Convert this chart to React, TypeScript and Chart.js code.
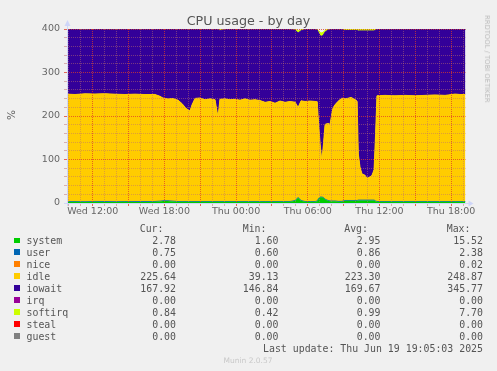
import React, { useEffect, useRef } from "react";
import { Chart, registerables } from "chart.js";
Chart.register(...registerables);

// ---- data (hours since Wed 00:00) ----
const hours = [
  9.85, 10.52, 11.36, 12.19, 13.03, 13.87, 14.7, 15.54, 16.38, 17.21,
  17.63, 17.88, 18.3, 18.72, 19.14, 19.48, 19.81, 20.14, 20.31, 20.56,
  20.98, 21.4, 21.82, 22.24, 22.49, 22.65, 23.07, 23.49, 23.91, 24.33,
  24.75, 25.17, 25.59, 26.01, 26.43, 26.85, 27.26, 27.68, 28.1, 28.52,
  28.94, 29.19, 29.44, 29.78, 30.2, 30.62, 30.79, 30.91, 31.04, 31.18,
  31.31, 31.45, 31.7, 31.87, 32.01, 32.12, 32.28, 32.54, 32.84, 33.12,
  33.37, 33.62, 33.96, 34.13, 34.23, 34.37, 34.54, 34.79, 34.96, 35.21,
  35.38, 35.55, 35.67, 35.79, 36.46, 37.3, 38.14, 38.97, 39.81, 40.65,
  41.49, 42.33, 42.75, 43.2,
];
const system = [
  2.4, 2.6, 2.2, 2.8, 2.5, 2.3, 2.6, 2.4, 2.5, 2.7,
  3.5, 4.5, 4.5, 3.5, 2.6, 2.6, 2.6, 2.6, 2.6, 2.6,
  2.6, 2.6, 2.6, 2.6, 2.6, 2.6, 2.6, 2.6, 2.6, 2.6,
  2.6, 2.6, 2.6, 2.6, 2.6, 2.6, 2.6, 2.6, 2.6, 2.6,
  5, 12, 5, 2.6, 2.6, 2.6, 4, 10, 13, 13,
  12, 8, 5, 4, 4, 4, 4, 3, 3, 5,
  5, 5, 5, 5, 6, 6, 6, 6, 6, 6,
  6, 6, 4, 2.6, 2.6, 2.6, 2.6, 2.6, 2.6, 2.6,
  2.6, 2.6, 2.6, 2.6,
];
const user = [
  0.8, 0.8, 0.8, 0.8, 0.8, 0.8, 0.8, 0.8, 0.8, 0.8,
  0.8, 0.8, 0.8, 0.8, 0.8, 0.8, 0.8, 0.8, 0.8, 0.8,
  0.8, 0.8, 0.8, 0.8, 0.8, 0.8, 0.8, 0.8, 0.8, 0.8,
  0.8, 0.8, 0.8, 0.8, 0.8, 0.8, 0.8, 0.8, 0.8, 0.8,
  0.8, 0.8, 0.8, 0.8, 0.8, 0.8, 0.8, 0.8, 0.8, 0.8,
  0.8, 0.8, 0.8, 0.8, 0.8, 0.8, 0.8, 0.8, 0.8, 0.8,
  0.8, 0.8, 0.8, 0.8, 0.8, 0.8, 0.8, 0.8, 0.8, 0.8,
  0.8, 0.8, 0.8, 0.8, 0.8, 0.8, 0.8, 0.8, 0.8, 0.8,
  0.8, 0.8, 0.8, 0.8,
];
const idle = [
  247, 246, 248, 247, 248, 247, 246, 247, 246, 246,
  241, 236, 234, 236, 233, 225, 214, 208, 222, 237,
  238, 234, 236, 234, 193, 235, 236, 234, 235, 233,
  236, 233, 234, 232, 228, 230, 226, 231, 228, 230,
  226, 207, 229, 230, 231, 230, 228, 170, 120, 82,
  122, 172, 177, 176, 200, 214, 221, 230, 237, 234,
  235, 237, 232, 228, 106, 76, 60, 57, 50, 53,
  57, 70, 150, 243, 244, 243, 244, 243, 244, 245,
  244, 247, 246, 246,
];
const iowait = [
  148.4, 149.4, 147.4, 148.4, 147.4, 148.4, 149.4, 148.4, 149.4, 149.4,
  153.5, 157.5, 159.5, 158.5, 162.4, 170.4, 181.4, 187.4, 173.4, 158.4,
  157.4, 161.4, 159.4, 161.4, 202.4, 158.2, 159.4, 161.4, 160.4, 162.4,
  159.4, 162.4, 161.4, 163.4, 167.4, 165.4, 169.4, 164.4, 167.4, 165.4,
  165.8, 171.2, 161.2, 165.4, 164.4, 165.4, 164.8, 210.2, 250.5, 287.5,
  251.2, 212.2, 214.8, 218, 194, 180, 173, 165, 158, 156.8,
  155.8, 153.8, 158.8, 162.8, 282.8, 312.8, 328.8, 331.8, 338.8, 335.8,
  331.8, 318.8, 242.8, 152.4, 151.4, 152.4, 151.4, 152.4, 151.4, 150.4,
  151.4, 148.4, 149.4, 149.4,
];
const softirq = [
  0.8, 0.8, 0.8, 0.8, 0.8, 0.8, 0.8, 0.8, 0.8, 0.8,
  0.8, 0.8, 0.8, 0.8, 0.8, 0.8, 0.8, 0.8, 0.8, 0.8,
  0.8, 0.8, 0.8, 0.8, 0.8, 3, 0.8, 0.8, 0.8, 0.8,
  0.8, 0.8, 0.8, 0.8, 0.8, 0.8, 0.8, 0.8, 0.8, 0.8,
  2, 5, 2, 0.8, 0.8, 0.8, 2, 5, 7.7, 7.7,
  7, 4, 2, 0.8, 0.8, 0.8, 0.8, 0.8, 0.8, 3,
  3, 3, 3, 3, 4, 4, 4, 4, 4, 4,
  4, 4, 2, 0.8, 0.8, 0.8, 0.8, 0.8, 0.8, 0.8,
  0.8, 0.8, 0.8, 0.8,
];

const xTickHours = [12, 18, 24, 30, 36, 42];
const xTickLabels = ["Wed 12:00", "Wed 18:00", "Thu 00:00", "Thu 06:00", "Thu 12:00", "Thu 18:00"];
const yTickLabels = [0, 100, 200, 300, 400];

// legend table
const seriesNames = ["system", "user", "nice", "idle", "iowait", "irq", "softirq", "steal", "guest"];
const seriesColors = ["#00CC00", "#0066B3", "#FF8000", "#FFCC00", "#330099", "#990099", "#CCFF00", "#FF0000", "#808080"];
const curValues = ["2.78", "0.75", "0.00", "225.64", "167.92", "0.00", "0.84", "0.00", "0.00"];
const minValues = ["1.60", "0.60", "0.00", "39.13", "146.84", "0.00", "0.42", "0.00", "0.00"];
const avgValues = ["2.95", "0.86", "0.00", "223.30", "169.67", "0.00", "0.99", "0.00", "0.00"];
const maxValues = ["15.52", "2.38", "0.02", "248.87", "345.77", "0.00", "7.70", "0.00", "0.00"];

const GRID = "rgba(190,110,110,0.5)";
const MGRID = "rgba(222,60,40,0.75)";
const AXIS = "#CFD6F8";

export default function App() {
  const ref = useRef<HTMLCanvasElement>(null);

  useEffect(() => {
    const mk = (label: string, color: string, values: number[], fill: string, bw: number) => ({
      label,
      data: hours.map((h, i) => ({ x: h, y: values[i] })),
      borderWidth: bw,
      borderColor: color,
      backgroundColor: color,
      pointRadius: 0,
      tension: 0,
      fill,
    });
    const axisPlugin = {
      id: "munin-axes",
      afterDraw(chart: any) {
        const c = chart.ctx;
        const { left, right, top, bottom } = chart.chartArea;
        c.save();
        c.strokeStyle = AXIS;
        c.fillStyle = AXIS;
        c.lineWidth = 1;
        c.beginPath();
        c.moveTo(left + 0.5, bottom + 3);
        c.lineTo(left + 0.5, top - 4);
        c.stroke();
        c.beginPath();
        c.moveTo(left - 3, bottom + 0.5);
        c.lineTo(right + 4, bottom + 0.5);
        c.stroke();
        c.beginPath();
        c.moveTo(left + 0.5, top - 9);
        c.lineTo(left - 2.5, top - 3);
        c.lineTo(left + 3.5, top - 3);
        c.closePath();
        c.fill();
        c.beginPath();
        c.moveTo(right + 8, bottom + 0.5);
        c.lineTo(right + 3, bottom - 2.5);
        c.lineTo(right + 3, bottom + 3.5);
        c.closePath();
        c.fill();
        c.restore();
      },
    };
    const font = { family: "DejaVu Sans", size: 9.5 };
    const chart = new Chart(ref.current!, {
      type: "line",
      data: {
        datasets: [
          mk("system", seriesColors[0], system, "origin", 0),
          mk("user", seriesColors[1], user, "-1", 0.8),
          mk("idle", seriesColors[3], idle, "-1", 1),
          mk("iowait", seriesColors[4], iowait, "-1", 1),
          mk("softirq", seriesColors[6], softirq, "-1", 1),
        ] as any,
      },
      options: {
        responsive: false,
        animation: false,
        devicePixelRatio: 1,
        layout: { padding: { left: 0, top: 29, right: 31.5, bottom: 0 } },
        plugins: { legend: { display: false }, tooltip: { enabled: false } },
        scales: {
          x: {
            type: "linear",
            min: 9.85,
            max: 43.2,
            afterBuildTicks: (s: any) => {
              const t: any[] = [];
              for (let h = 10; h <= 43; h++) t.push({ value: h });
              s.ticks = t;
            },
            afterFit: (s: any) => {
              s.height = 168;
            },
            ticks: {
              autoSkip: false,
              maxRotation: 0,
              padding: 0,
              color: "#666",
              font,
              callback: (v: any) => {
                const i = xTickHours.indexOf(Number(v));
                return i >= 0 ? xTickLabels[i] : "";
              },
            },
            grid: {
              z: 1,
              color: (c: any) => (c.tick && c.tick.value % 3 === 0 ? MGRID : GRID),
              tickColor: (c: any) => (c.tick && c.tick.value % 3 === 0 ? MGRID : GRID),
              tickLength: 3,
              lineWidth: 1,
            },
            border: { display: false, dash: [1, 1] },
          },
          y: {
            stacked: true,
            min: 0,
            max: 400,
            afterBuildTicks: (s: any) => {
              const t: any[] = [];
              for (let v = 0; v <= 400; v += 20) t.push({ value: v });
              s.ticks = t;
            },
            afterFit: (s: any) => {
              s.width = 67;
            },
            ticks: {
              autoSkip: false,
              padding: 4,
              color: "#666",
              font,
              callback: (v: any) => (yTickLabels.indexOf(Number(v)) >= 0 ? String(v) : ""),
            },
            grid: {
              z: 1,
              color: (c: any) => (c.tick && c.tick.value % 100 === 0 ? MGRID : GRID),
              tickColor: (c: any) => (c.tick && c.tick.value % 100 === 0 ? MGRID : GRID),
              tickLength: 3,
              lineWidth: 1,
            },
            border: { display: false, dash: [1, 1] },
          },
        },
      } as any,
      plugins: [axisPlugin],
    });
    return () => chart.destroy();
  }, []);

  const mono = "'DejaVu Sans Mono', monospace";
  const rowY = (i: number) => 240 + i * 11.95;
  const cell = (text: string, right: number, y: number, key: string) => (
    <div
      key={key}
      style={{
        position: "absolute",
        right: 497 - right,
        top: y,
        transform: "translateY(-50%)",
        fontFamily: mono,
        fontSize: 9.9,
        color: "#555",
        whiteSpace: "pre",
      }}
    >
      {text}
    </div>
  );

  return (
    <div
      style={{
        position: "fixed",
        left: 0,
        top: 0,
        width: 497,
        height: 371,
        background: "#F0F0F0",
        overflow: "hidden",
      }}
    >
      <canvas
        ref={ref}
        width={497}
        height={371}
        style={{ position: "absolute", left: 0, top: 0, width: 497, height: 371 }}
      />
      <div
        style={{
          position: "absolute",
          left: 248.5,
          top: 19.5,
          transform: "translate(-50%,-50%)",
          fontFamily: "'DejaVu Sans'",
          fontSize: 12.7,
          color: "#555",
          whiteSpace: "nowrap",
        }}
      >
        CPU usage - by day
      </div>
      <div
        style={{
          position: "absolute",
          left: 11,
          top: 115,
          transform: "translate(-50%,-50%) rotate(-90deg)",
          fontFamily: "'DejaVu Sans'",
          fontSize: 10.5,
          color: "#666",
        }}
      >
        %
      </div>
      <div
        style={{
          position: "absolute",
          left: 487,
          top: 59,
          transform: "translate(-50%,-50%) rotate(90deg)",
          fontFamily: "'DejaVu Sans'",
          fontSize: 6.8,
          color: "#bbb",
          whiteSpace: "nowrap",
        }}
      >
        RRDTOOL / TOBI OETIKER
      </div>
      {cell("Cur:", 163.5, 228.3, "hc")}
      {cell("Min:", 266.5, 228.3, "hm")}
      {cell("Avg:", 368, 228.3, "ha")}
      {cell("Max:", 470.5, 228.3, "hx")}
      {seriesNames.map((n, i) => (
        <React.Fragment key={n}>
          <div
            style={{
              position: "absolute",
              left: 14,
              top: rowY(i) - 2.5,
              width: 5.5,
              height: 5.5,
              background: seriesColors[i],
            }}
          />
          <div
            style={{
              position: "absolute",
              left: 26.5,
              top: rowY(i),
              transform: "translateY(-50%)",
              fontFamily: mono,
              fontSize: 9.9,
              color: "#555",
              whiteSpace: "pre",
            }}
          >
            {n}
          </div>
          {cell(curValues[i], 176, rowY(i), n + "c")}
          {cell(minValues[i], 278.5, rowY(i), n + "m")}
          {cell(avgValues[i], 380.5, rowY(i), n + "a")}
          {cell(maxValues[i], 483, rowY(i), n + "x")}
        </React.Fragment>
      ))}
      {cell("Last update: Thu Jun 19 19:05:03 2025", 483, 347.7, "lu")}
      <div
        style={{
          position: "absolute",
          left: 248,
          top: 360,
          transform: "translate(-50%,-50%)",
          fontFamily: "'DejaVu Sans'",
          fontSize: 7.5,
          color: "#c8c8c8",
          whiteSpace: "nowrap",
        }}
      >
        Munin 2.0.57
      </div>
    </div>
  );
}
